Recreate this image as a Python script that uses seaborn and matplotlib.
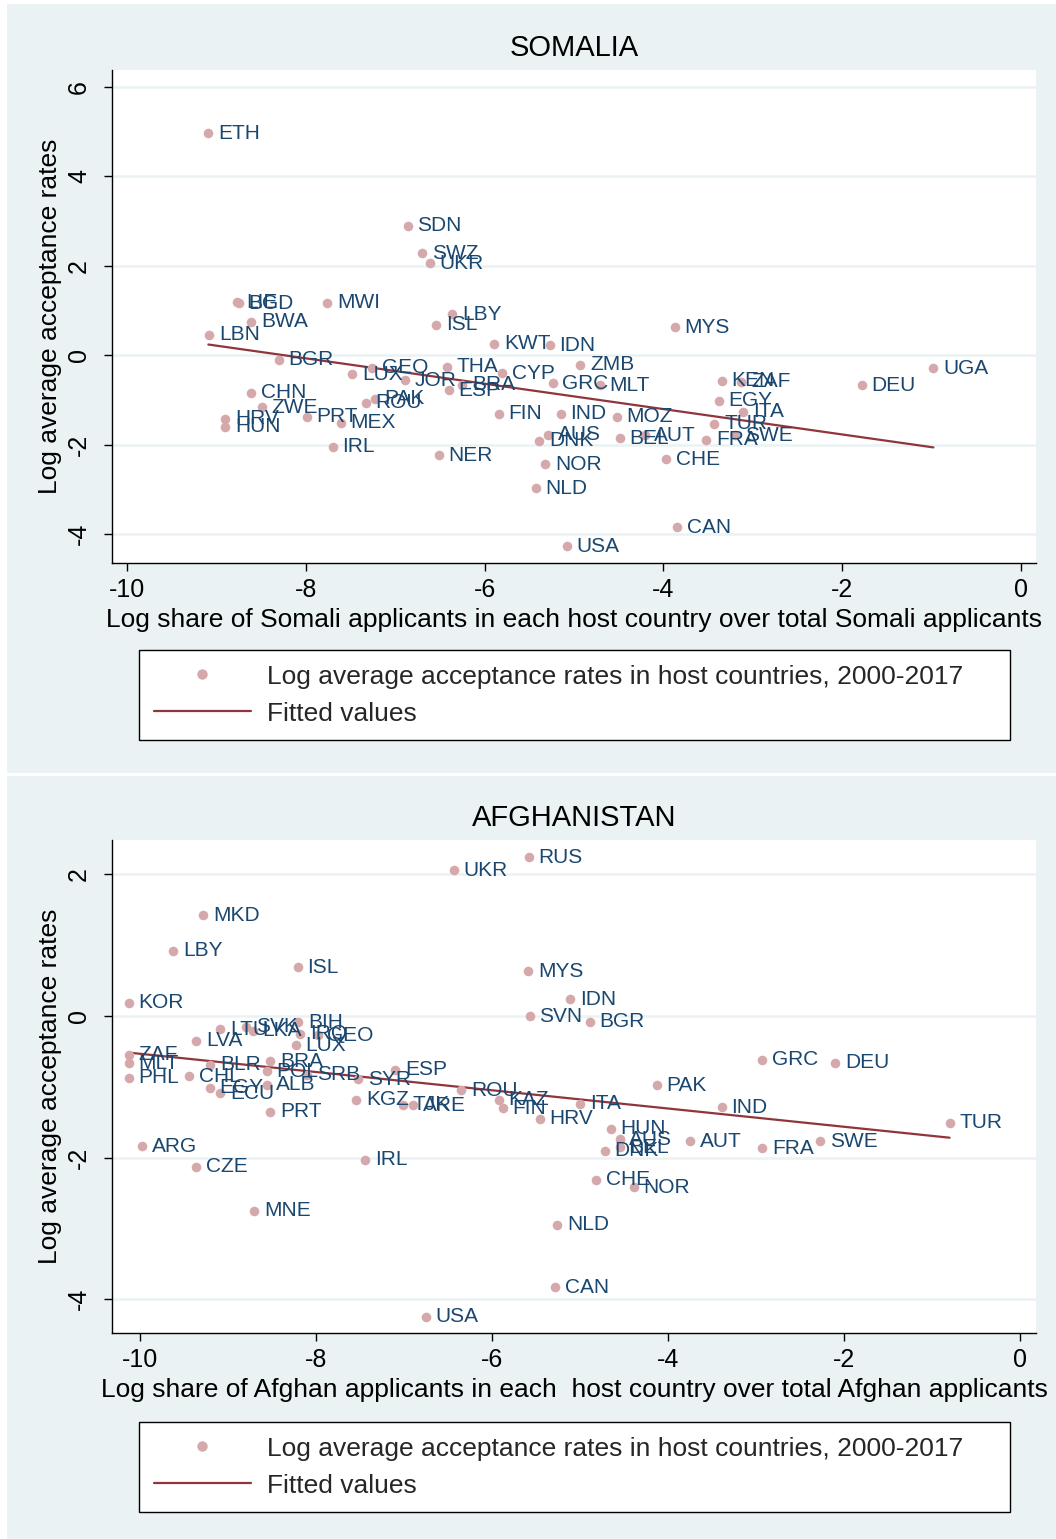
import numpy as np
import pandas as pd
import matplotlib
matplotlib.use("Agg")
import matplotlib.pyplot as plt
import seaborn as sns
from matplotlib.lines import Line2D
from matplotlib.patches import Rectangle

# ---- Somalia: host-country log share vs log average acceptance rate ----
som_codes = ["ETH", "SDN", "SWZ", "UKR", "LIE", "BGD", "MWI", "BWA", "LBN", "LBY",
             "ISL", "KWT", "IDN", "MYS", "BGR", "GEO", "LUX", "JOR", "THA", "CYP",
             "BRA", "ESP", "ZMB", "GRC", "MLT", "KEN", "ZAF", "EGY", "ITA", "TUR",
             "SWE", "FRA", "MOZ", "BEL", "AUT", "CHE", "IND", "FIN", "AUS", "DNK",
             "NOR", "NLD", "NER", "USA", "CAN", "DEU", "UGA", "CHN", "ZWE", "HRV",
             "HUN", "PRT", "MEX", "IRL", "ROU", "PAK"]
som_share = [-9.09, -6.86, -6.70, -6.61, -8.77, -8.75, -7.76, -8.61, -9.08, -6.36,
             -6.54, -5.89, -5.27, -3.87, -8.30, -7.26, -7.48, -6.89, -6.42, -5.80,
             -6.25, -6.40, -4.93, -5.24, -4.71, -3.35, -3.13, -3.38, -3.11, -3.43,
             -3.20, -3.52, -4.52, -4.49, -4.21, -3.97, -5.15, -5.84, -5.29, -5.39,
             -5.32, -5.43, -6.51, -5.08, -3.85, -1.78, -0.98, -8.61, -8.49, -8.90,
             -8.90, -7.99, -7.61, -7.70, -7.33, -7.23]
som_accept = [4.97, 2.89, 2.28, 2.06, 1.18, 1.16, 1.17, 0.75, 0.46, 0.92,
              0.68, 0.25, 0.22, 0.62, -0.10, -0.28, -0.43, -0.56, -0.26, -0.41,
              -0.66, -0.78, -0.21, -0.63, -0.67, -0.57, -0.60, -1.02, -1.27, -1.53,
              -1.79, -1.89, -1.38, -1.86, -1.79, -2.33, -1.31, -1.31, -1.78, -1.92,
              -2.44, -2.98, -2.24, -4.27, -3.85, -0.67, -0.29, -0.84, -1.16, -1.42,
              -1.60, -1.38, -1.51, -2.05, -1.06, -0.98]

# ---- Afghanistan ----
afg_codes = ["RUS", "UKR", "MKD", "LBY", "ISL", "MYS", "KOR", "IDN", "SVN", "BGR",
             "LTU", "SVK", "LKA", "BIH", "IRQ", "GEO", "LVA", "LUX", "ZAF", "MLT",
             "PHL", "CHL", "BLR", "EGY", "ECU", "BRA", "POL", "ALB", "PRT", "SRB",
             "SYR", "ESP", "KGZ", "TJK", "ARE", "ROU", "KAZ", "FIN", "HRV", "ITA",
             "PAK", "HUN", "AUS", "BEL", "DNK", "AUT", "IND", "FRA", "SWE", "CHE",
             "NOR", "GRC", "DEU", "TUR", "ARG", "CZE", "IRL", "MNE", "NLD", "CAN",
             "USA"]
afg_share = [-5.58, -6.43, -9.28, -9.62, -8.21, -5.59, -10.13, -5.11, -5.57, -4.89,
             -9.09, -8.79, -8.72, -8.20, -8.18, -7.98, -9.36, -8.23, -10.13, -10.13,
             -10.13, -9.44, -9.20, -9.21, -9.09, -8.52, -8.56, -8.56, -8.52, -8.10,
             -7.52, -7.10, -7.54, -7.01, -6.90, -6.35, -5.92, -5.88, -5.46, -5.00,
             -4.13, -4.65, -4.55, -4.55, -4.72, -3.75, -3.39, -2.93, -2.27, -4.82,
             -4.39, -2.93, -2.10, -0.80, -9.98, -9.36, -7.44, -8.70, -5.26, -5.28,
             -6.75]
afg_accept = [2.24, 2.06, 1.42, 0.92, 0.69, 0.63, 0.19, 0.24, 0.00, -0.08,
              -0.19, -0.15, -0.21, -0.09, -0.25, -0.27, -0.35, -0.41, -0.55, -0.67,
              -0.87, -0.85, -0.69, -1.01, -1.09, -0.64, -0.78, -0.97, -1.35, -0.83,
              -0.89, -0.76, -1.18, -1.25, -1.26, -1.05, -1.18, -1.30, -1.45, -1.24,
              -0.98, -1.59, -1.74, -1.85, -1.90, -1.77, -1.29, -1.87, -1.77, -2.31,
              -2.42, -0.62, -0.66, -1.51, -1.84, -2.13, -2.03, -2.75, -2.95, -3.83,
              -4.25]

som_yticks = [-4, -2, 0, 2, 4, 6]
afg_yticks = [-4, -2, 0, 2]
xticks = [-10, -8, -6, -4, -2, 0]

legend_labels = ["Log average acceptance rates in host countries, 2000-2017",
                 "Fitted values"]

sns.set_theme(style="white")
plt.rcParams["font.family"] = ["Liberation Sans", "DejaVu Sans"]

W, H = 1056, 1539
fig = plt.figure(figsize=(W / 100, H / 100), dpi=100, facecolor="white")

BG = "#EAF2F3"
DOT = "#D5A9AB"
NAVY = "#1A476F"
MAROON = "#90353B"


def fx(px):
    return px / W


def fy(py):
    return 1 - py / H


def rect_fig(x0, y0, x1, y1):
    return (fx(x0), fy(y1), fx(x1) - fx(x0), fy(y0) - fy(y1))


panels = [
    dict(title="SOMALIA", codes=som_codes, x=som_share, y=som_accept,
         xlabel="Log share of Somali applicants in each host country over total Somali applicants",
         bg=(7, 4, 1056, 773), ax=(112, 70, 1036, 563),
         xlim=(-10.168, 0.168), ylim=(-4.65, 6.38), yticks=som_yticks,
         legend=(139, 650, 1010, 737)),
    dict(title="AFGHANISTAN", codes=afg_codes, x=afg_share, y=afg_accept,
         xlabel="Log share of Afghan applicants in each  host country over total Afghan applicants",
         bg=(7, 776, 1056, 1539), ax=(112, 840, 1036, 1333),
         xlim=(-10.318, 0.182), ylim=(-4.477, 2.486), yticks=afg_yticks,
         legend=(139, 1422, 1010, 1507)),
]

for p in panels:
    # panel background
    bx, by, bw, bh = rect_fig(*p["bg"])
    fig.add_artist(Rectangle((bx, by), bw, bh, transform=fig.transFigure,
                             facecolor=BG, edgecolor="none", zorder=-5))
    x0, y0, x1, y1 = p["ax"]
    ax = fig.add_axes(rect_fig(x0, y0, x1, y1))
    ax.set_facecolor("white")

    df = pd.DataFrame({"code": p["codes"], "share": p["x"], "accept": p["y"]})

    sns.regplot(data=df, x="share", y="accept", scatter=False, ci=None, ax=ax,
                color=MAROON, line_kws=dict(lw=1.6, zorder=3))
    sns.scatterplot(data=df, x="share", y="accept", ax=ax, color=DOT, s=48,
                    linewidth=0, zorder=4, legend=False)
    for _, r in df.iterrows():
        ax.annotate(r["code"], (r["share"], r["accept"]), xytext=(7, 0),
                    textcoords="offset points", ha="left", va="center",
                    color=NAVY, fontsize=15, zorder=5)

    ax.set_xlim(*p["xlim"])
    ax.set_ylim(*p["ylim"])
    ax.set_xticks(xticks)
    ax.set_xticklabels([str(t) for t in xticks])
    ax.set_yticks(p["yticks"])
    ax.set_yticklabels([str(t) for t in p["yticks"]])
    ax.set_xlabel("")
    ax.set_ylabel("")
    ax.yaxis.grid(True, color=BG, lw=1.8, zorder=0)
    ax.xaxis.grid(False)
    ax.set_axisbelow(True)
    for s in ["top", "right"]:
        ax.spines[s].set_visible(False)
    for s in ["left", "bottom"]:
        ax.spines[s].set_color("black")
        ax.spines[s].set_linewidth(1.0)
    ax.tick_params(axis="both", direction="out", length=6, width=1, color="black",
                   labelsize=18, labelcolor="black", bottom=True, left=True)
    ax.tick_params(axis="x", pad=5)
    ax.tick_params(axis="y", labelrotation=90, pad=9)
    for lab in ax.get_yticklabels():
        lab.set_va("center")

    cx = (x0 + x1) / 2
    fig.text(fx(cx), fy(y0 - 22), p["title"], ha="center", va="center", fontsize=21, color="black")
    fig.text(fx(cx), fy(y1 + 57), p["xlabel"], ha="center", va="center", fontsize=19, color="black")
    fig.text(fx(50), fy((y0 + y1) / 2), "Log average acceptance rates", rotation=90,
             ha="center", va="center", fontsize=19, color="black")

    lx0, ly0, lx1, ly1 = p["legend"]
    handles = [Line2D([], [], ls="none", marker="o", markersize=7.5, markerfacecolor=DOT,
                      markeredgewidth=0),
               Line2D([], [], color=MAROON, lw=1.6)]
    leg = ax.legend(handles, legend_labels, loc="upper left",
                    bbox_to_anchor=rect_fig(lx0, ly0, lx1, ly1),
                    bbox_transform=fig.transFigure, mode="expand", fontsize=19,
                    frameon=True, fancybox=False, framealpha=1, edgecolor="black",
                    borderpad=0.55, labelspacing=0.5, handlelength=3.7,
                    handletextpad=0.6, borderaxespad=0)
    leg.get_frame().set_linewidth(1.0)

fig.savefig("out.png", dpi=100, facecolor="white")
